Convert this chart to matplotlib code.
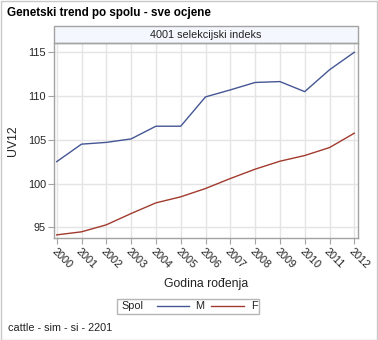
import numpy as np
import matplotlib
matplotlib.use('Agg')
import matplotlib.pyplot as plt
from matplotlib.patches import Rectangle
from matplotlib.lines import Line2D

plt.rcParams['font.family'] = ['Liberation Sans', 'DejaVu Sans']

# data
years = [2000, 2001, 2002, 2003, 2004, 2005, 2006, 2007, 2008, 2009, 2010, 2011, 2012]
uv_m = [102.5, 104.5, 104.7, 105.1, 106.55, 106.55, 109.9, 110.7, 111.55, 111.65, 110.5, 113.0, 115.0]
uv_f = [94.13, 94.48, 95.28, 96.57, 97.79, 98.48, 99.43, 100.57, 101.64, 102.55, 103.2, 104.11, 105.75]
yticks = [95, 100, 105, 110, 115]
series_names = ['M', 'F']

W, H = 378, 340
fig = plt.figure(figsize=(W/100, H/100), dpi=100)
fig.patch.set_facecolor('white')

def fx(px):
    return px / W

def fy(py):
    return 1 - py / H

gridc = '#e4e4e4'
framec = '#a3a3a3'
txtc = '#222222'
c_m = '#445694'
c_f = '#a23a2e'
fs = 7.8

ax_l, ax_r, ax_t, ax_b = 54.3, 357.7, 43, 238.3
ax = fig.add_axes([fx(ax_l), fy(ax_b), fx(ax_r) - fx(ax_l), fy(ax_t) - fy(ax_b)])
ax.plot(years, uv_m, color=c_m, lw=1.0)
ax.plot(years, uv_f, color=c_f, lw=1.0)
ax.set_xlim(1999.903, 2012.137)
ax.set_ylim(93.74, 116.06)
ax.set_xticks(years)
ax.set_xticklabels([str(y) for y in years], rotation=-45, ha='left', va='top',
                   rotation_mode='anchor', fontsize=fs, color=txtc)
ax.set_yticks(yticks)
ax.set_yticklabels([str(v) for v in yticks], fontsize=fs, color=txtc)
ax.grid(True, color=gridc, lw=1.0)
ax.set_axisbelow(True)
for s in ax.spines.values():
    s.set_color(framec)
    s.set_linewidth(1.0)
ax.tick_params(axis='both', color=framec, length=4, width=0.8, pad=2)
ax.set_xlabel('Godina rođenja', fontsize=8.8, color=txtc)
ax.set_ylabel('UV12', fontsize=8.8, color=txtc)
ax.xaxis.set_label_coords(0.5, -(284 - ax_b) / (ax_b - ax_t))
ax.xaxis.label.set_va('center')
ax.yaxis.set_label_coords(-(ax_l - 13) / (ax_r - ax_l), 0.5)
ax.yaxis.label.set_va('center')

# header band above the panel
hdr_h = (43 - 26) / (ax_b - ax_t)
ax.add_patch(Rectangle((0, 1), 1, hdr_h, transform=ax.transAxes, clip_on=False,
                       facecolor='#f4f7fd', edgecolor=framec, lw=1.0))
ax.text(0.5, 1 + hdr_h / 2, '4001 selekcijski indeks', transform=ax.transAxes,
        ha='center', va='center', fontsize=fs, color=txtc)

# title and footnote
fig.text(fx(7), fy(13), 'Genetski trend po spolu - sve ocjene', fontsize=8.4,
         fontweight='bold', ha='left', va='center', color='black')
fig.text(fx(8), fy(328), 'cattle - sim - si - 2201', fontsize=fs,
         ha='left', va='center', color=txtc)

# legend box
fig.add_artist(Rectangle((fx(117), fy(314)), fx(259) - fx(117), fy(299) - fy(314),
                         transform=fig.transFigure, facecolor='white',
                         edgecolor='#b5b5b5', lw=1.0))
ly = fy(305.7)
fig.text(fx(121), ly, 'Spol', fontsize=fs, ha='left', va='center', color=txtc)
for (x0, x1, xt), c, name in zip([(157, 189, 195), (211, 244, 251)], [c_m, c_f], series_names):
    fig.add_artist(Line2D([fx(x0), fx(x1)], [ly, ly], transform=fig.transFigure,
                          color=c, lw=1.0))
    fig.text(fx(xt), ly, name, fontsize=fs, ha='left', va='center', color=txtc)

# outer border
fig.add_artist(Rectangle((0.5 / W, 0.5 / H), 1 - 1.5 / W, 1 - 1.5 / H,
                         transform=fig.transFigure, fill=False,
                         edgecolor='#c8c8c8', lw=1.0))

fig.savefig('out.png', dpi=100)
